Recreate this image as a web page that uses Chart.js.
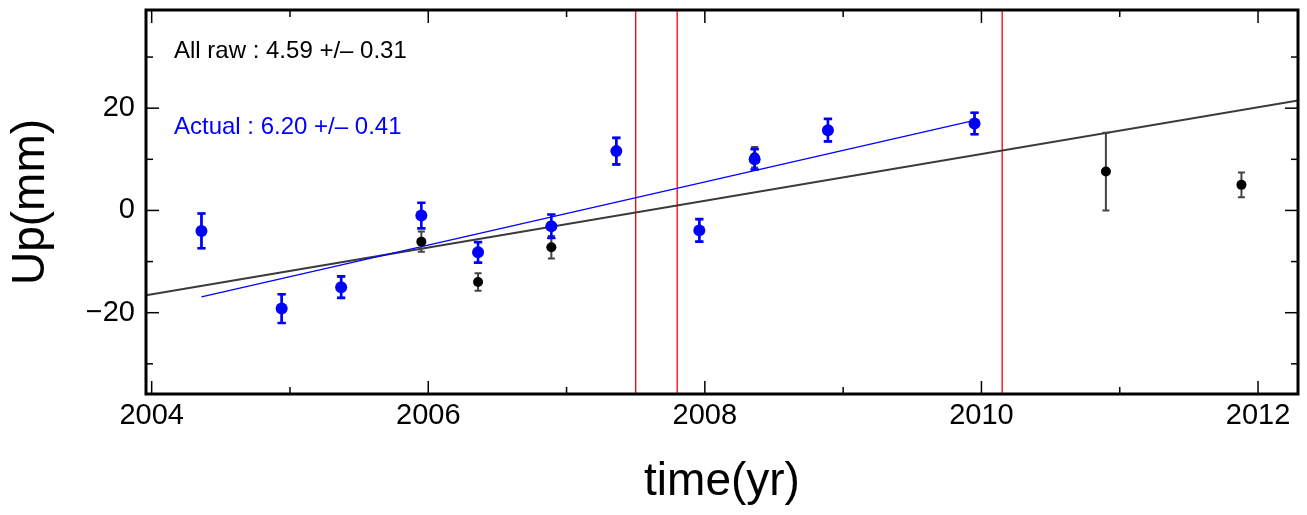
<!DOCTYPE html>
<html><head><meta charset="utf-8">
<script src="https://cdn.jsdelivr.net/npm/chart.js@4.4.0/dist/chart.umd.min.js"></script>
<style>html,body{margin:0;padding:0;background:#fff;overflow:hidden;} #wrap{width:1307px;height:515px;position:relative;}</style>
</head><body><div id="wrap"><canvas id="c"></canvas></div>
<script>
// ---- data ----
const years = [2004.36, 2004.94, 2005.37, 2005.95, 2006.36, 2006.89, 2007.36, 2007.96, 2008.36, 2008.89, 2009.95, 2010.90, 2011.88];
const rawUp = [-4.0, -19.2, -15.0, -6.1, -14.0, -7.2, 11.6, -3.9, 10.4, 15.7, 17.0, 7.6, 5.0];
const rawErr = [3.4, 2.8, 2.1, 2.0, 1.7, 2.2, 2.6, 2.2, 2.0, 2.2, 2.1, 7.6, 2.4];
const actualYears = [2004.36, 2004.94, 2005.37, 2005.95, 2006.36, 2006.89, 2007.36, 2007.96, 2008.36, 2008.89, 2009.95];
const actualUp = [-4.0, -19.2, -15.0, -1.0, -8.2, -3.1, 11.6, -3.9, 10.0, 15.7, 17.0];
const actualErr = [3.4, 2.8, 2.1, 2.5, 2.0, 2.3, 2.6, 2.2, 2.0, 2.2, 2.1];
const rawFitX = [2003.96, 2012.29];
const rawFitY = [-16.6, 21.5];
const actualFitX = [2004.36, 2009.95];
const actualFitY = [-16.9, 17.6];
const breakYears = [2007.50, 2007.80, 2010.15];
const xMajorTicks = [2004, 2006, 2008, 2010, 2012];
const xMinorTicks = [2005, 2007, 2009, 2011];
const yMajorTicks = [-20, 0, 20];
const yMinorTicks = [-30, -10, 10, 30];
const xRange = [2003.959, 2012.289];
const yRange = [-35.9, 39.2];
const rawLabel = "All raw : 4.59 +/\u2013 0.31";
const actualLabel = "Actual : 6.20 +/\u2013 0.41";

const FONT = "'Liberation Sans', Arial, Helvetica, sans-serif";
const toPts = (xs, ys) => xs.map((x, i) => ({x: x, y: ys[i]}));

const datasets = [];
datasets.push({label:'raw fit', data: toPts(rawFitX, rawFitY), showLine:true, borderColor:'#3a3a3a', borderWidth:2, pointRadius:0, order:5});
breakYears.forEach((b, i) => datasets.push({label:'break'+i, data:[{x:b,y:yRange[0]},{x:b,y:yRange[1]}], showLine:true, borderColor:'#ff0000', borderWidth:1.3, pointRadius:0, order:6}));
datasets.push({label:'actual fit', data: toPts(actualFitX, actualFitY), showLine:true, borderColor:'#0000ff', borderWidth:1.2, pointRadius:0, order:4});
datasets.push({label:'raw', data: toPts(years, rawUp), err: rawErr, errColor:'#444444', errWidth:2, capHalf:3.5, showLine:false, pointRadius:5, pointBackgroundColor:'#000', pointBorderColor:'#000', pointBorderWidth:0, order:3});
datasets.push({label:'actual', data: toPts(actualYears, actualUp), err: actualErr, errColor:'#0000ff', errWidth:2.6, capHalf:4.2, showLine:false, pointRadius:6, pointBackgroundColor:'#0000ff', pointBorderColor:'#0000ff', pointBorderWidth:0, order:1});

const decor = {
  id:'decor',
  beforeDatasetDraw(chart, args) {
    const ds = chart.data.datasets[args.index];
    if (!ds.err) return;
    const xs = chart.scales.x, ys = chart.scales.y, ctx = chart.ctx;
    ctx.save();
    ctx.strokeStyle = ds.errColor; ctx.lineWidth = ds.errWidth;
    ds.data.forEach((p, i) => {
      const px = xs.getPixelForValue(p.x);
      const y1 = ys.getPixelForValue(p.y + ds.err[i]);
      const y2 = ys.getPixelForValue(p.y - ds.err[i]);
      ctx.beginPath();
      ctx.moveTo(px, y1); ctx.lineTo(px, y2);
      ctx.moveTo(px - ds.capHalf, y1); ctx.lineTo(px + ds.capHalf, y1);
      ctx.moveTo(px - ds.capHalf, y2); ctx.lineTo(px + ds.capHalf, y2);
      ctx.stroke();
    });
    ctx.restore();
  },
  afterDraw(chart) {
    const ctx = chart.ctx, a = chart.chartArea, xs = chart.scales.x, ys = chart.scales.y;
    ctx.save();
    ctx.strokeStyle = '#000'; ctx.lineWidth = 1.5;
    const tick = (x1,y1,x2,y2)=>{ctx.beginPath();ctx.moveTo(x1,y1);ctx.lineTo(x2,y2);ctx.stroke();};
    xMajorTicks.forEach(v => { const p = xs.getPixelForValue(v); tick(p,a.bottom,p,a.bottom-13); tick(p,a.top,p,a.top+13); });
    xMinorTicks.forEach(v => { const p = xs.getPixelForValue(v); tick(p,a.bottom,p,a.bottom-7); tick(p,a.top,p,a.top+7); });
    yMajorTicks.forEach(v => { const p = ys.getPixelForValue(v); tick(a.left,p,a.left+13,p); tick(a.right,p,a.right-13,p); });
    yMinorTicks.forEach(v => { const p = ys.getPixelForValue(v); tick(a.left,p,a.left+7,p); tick(a.right,p,a.right-7,p); });
    // frame
    ctx.lineWidth = 3; ctx.strokeStyle = '#000';
    ctx.strokeRect(a.left, a.top, a.right - a.left, a.bottom - a.top);
    // annotations
    ctx.font = '24px ' + FONT; ctx.textBaseline = 'alphabetic'; ctx.textAlign = 'left';
    ctx.fillStyle = '#000'; ctx.fillText(rawLabel, a.left + 28, 58);
    ctx.fillStyle = '#0000ff'; ctx.fillText(actualLabel, a.left + 28, 134);
    ctx.restore();
  }
};

new Chart(document.getElementById('c'), {
  type:'scatter',
  data:{datasets},
  options:{
    responsive:true, maintainAspectRatio:false, animation:false,
    layout:{padding:{top:10, right:9, left:0, bottom:0}},
    plugins:{legend:{display:false}, tooltip:{enabled:false}},
    scales:{
      x:{type:'linear', min:xRange[0], max:xRange[1],
        grid:{display:false, drawTicks:false}, border:{display:false},
        afterBuildTicks(s){ s.ticks = xMajorTicks.map(v=>({value:v})); },
        afterFit(s){ s.height = 121; s.paddingLeft = 0; s.paddingRight = 0; },
        ticks:{color:'#000', font:{family:FONT, size:29}, padding:5, maxRotation:0, autoSkip:false, callback:(v)=>String(v)},
        title:{display:true, text:'time(yr)', color:'#000', font:{family:FONT, size:46}, padding:{top:0, bottom:5}}
      },
      y:{type:'linear', min:yRange[0], max:yRange[1],
        grid:{display:false, drawTicks:false}, border:{display:false},
        afterBuildTicks(s){ s.ticks = yMajorTicks.map(v=>({value:v})); },
        afterFit(s){ s.width = 146; s.paddingTop = 0; s.paddingBottom = 0; },
        ticks:{color:'#000', font:{family:FONT, size:29}, padding:11, autoSkip:false, callback:(v)=> v < 0 ? '\u2212' + Math.abs(v) : String(v)},
        title:{display:true, text:'Up(mm)', color:'#000', font:{family:FONT, size:46}, padding:{top:4, bottom:0}}
      }
    }
  },
  plugins:[decor]
});
</script></body></html>
